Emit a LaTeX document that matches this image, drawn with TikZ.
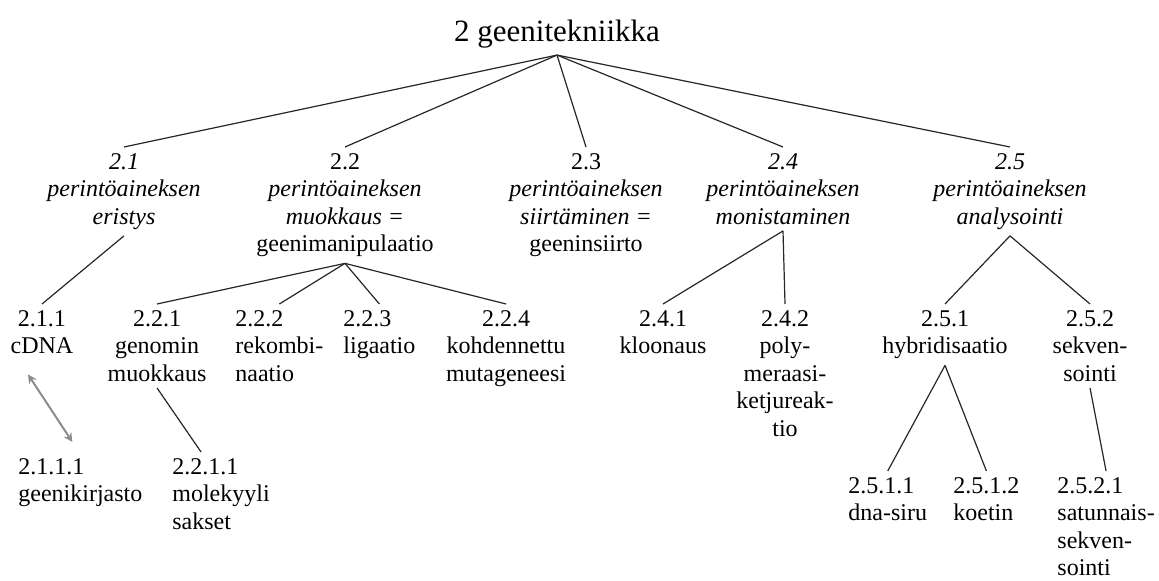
\documentclass[tikz,border=0pt]{standalone}
\usepackage{fontspec}
\setmainfont{Liberation Serif}
\usetikzlibrary{arrows}

\begin{document}
\begin{tikzpicture}[x=0.5pt,y=-0.5pt,>=stealth,
every node/.style={font=\fontsize{12}{13.75}\selectfont, inner sep=3pt},
topic/.style={align=center, anchor=north},
leaf/.style={align=left, anchor=north west},
link/.style={draw=black!85, line width=0.6pt},
twoway/.style={<->, draw=black!45, line width=1pt}]
\useasboundingbox (0,0) rectangle (1159,581);
\node[font=\fontsize{15.5}{18}\selectfont, anchor=base] (root) at (557,42) {2 geenitekniikka};
% main branches
\node[topic,font=\fontsize{12}{13.75}\selectfont\itshape] (n21) at (124,147) {2.1\\perintöaineksen\\eristys};
\node[topic] (n22) at (345,147) {2.2\\\textit{perintöaineksen}\\\textit{muokkaus =}\\geenimanipulaatio};
\node[topic] (n23) at (586,147) {2.3\\\textit{perintöaineksen}\\\textit{siirtäminen =}\\geeninsiirto};
\node[topic,font=\fontsize{12}{13.75}\selectfont\itshape] (n24) at (783,147) {2.4\\perintöaineksen\\monistaminen};
\node[topic,font=\fontsize{12}{13.75}\selectfont\itshape] (n25) at (1010,147) {2.5\\perintöaineksen\\analysointi};
% second level
\node[topic] (n211) at (42,304) {2.1.1\\cDNA};
\node[topic] (n221) at (157,304) {2.2.1\\genomin\\muokkaus};
\node[leaf] (n222) at (229,304) {2.2.2\\rekombi-\\naatio};
\node[leaf] (n223) at (337,304) {2.2.3\\ligaatio};
\node[topic] (n224) at (506,304) {2.2.4\\kohdennettu\\mutageneesi};
\node[topic] (n241) at (663,304) {2.4.1\\kloonaus};
\node[topic] (n242) at (785,304) {2.4.2\\poly-\\meraasi-\\ketjureak-\\tio};
\node[topic] (n251) at (945,304) {2.5.1\\hybridisaatio};
\node[topic] (n252) at (1090,304) {2.5.2\\sekven-\\sointi};
% third level
\node[leaf] (n2111) at (12,452) {2.1.1.1\\geenikirjasto};
\node[leaf] (n2211) at (166,452) {2.2.1.1\\molekyyli\\sakset};
\node[leaf] (n2511) at (842,471) {2.5.1.1\\dna-siru};
\node[leaf] (n2512) at (947,471) {2.5.1.2\\koetin};
\node[leaf] (n2521) at (1051,471) {2.5.2.1\\satunnais-\\sekven-\\sointi};
% connectors
\foreach \k in {n21,n22,n23,n24,n25}
  \draw[link] (root.south) -- (\k.north);
\draw[link] (n21.south) -- (n211.north);
\foreach \k in {n221,n222,n223,n224}
  \draw[link] (n22.south) -- (\k.north);
\draw[link] (n24.south) -- (n241.north);
\draw[link] (n24.south) -- (n242.north);
\draw[link] (n25.south) -- (n251.north);
\draw[link] (n25.south) -- (n252.north);
\draw[twoway] ([xshift=-7pt,yshift=-7pt]n211.south) -- ([xshift=-4pt,yshift=5pt]n2111.north);
\draw[link] (n221.south) -- ([xshift=-10pt]n2211.north);
\draw[link] (n251.south) -- (n2511.north);
\draw[link] (n251.south) -- (n2512.north);
\draw[link] (n252.south) -- (n2521.north);
\end{tikzpicture}
\end{document}
